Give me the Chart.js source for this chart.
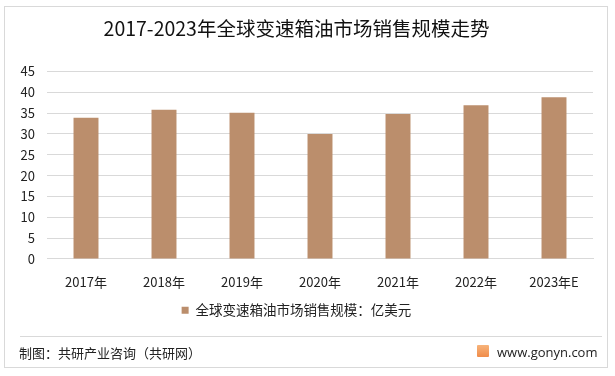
<!DOCTYPE html>
<html>
<head>
<meta charset="utf-8">
<script src="https://cdn.jsdelivr.net/npm/chart.js@4"></script>
<style>
  html, body { margin: 0; padding: 0; background: #fff; }
  #wrap { position: relative; width: 615px; height: 376px; font-family: "Noto Sans CJK SC", sans-serif; }
  #frame { position: absolute; left: 4px; top: 6px; width: 604px; height: 362px; border: 1px solid #d9d9d9; box-sizing: border-box; }
  #chart { position: absolute; left: 0; top: 0; }
  #sep { position: absolute; left: 20px; top: 336px; width: 582px; height: 1px; background: #d9d9d9; }
  #src { position: absolute; left: 19px; top: 344px; font-size: 13px; color: #222; line-height: 18px; }
  #site { position: absolute; left: 497px; top: 343px; font-size: 13px; color: #222; line-height: 18px; font-family: "Open Sans", sans-serif; }
  #logo { position: absolute; left: 477px; top: 345px; width: 12px; height: 12px; background: linear-gradient(#f7b37a, #f08c4a); border-radius: 1px; }
</style>
</head>
<body>
<div id="wrap">
  <div id="frame"></div>
  <canvas id="chart" width="615" height="376"></canvas>
  <div id="sep"></div>
  <div id="src">制图：共研产业咨询（共研网）</div>
  <div id="logo"></div>
  <div id="site">www.gonyn.com</div>
</div>
<script>
const ctx = document.getElementById('chart');

/* data */
const years = ["2017年", "2018年", "2019年", "2020年", "2021年", "2022年", "2023年E"];
const salesScale = [33.9, 35.8, 35.1, 30.0, 34.8, 36.9, 38.8];
const seriesName = "全球变速箱油市场销售规模：亿美元";
const chartTitle = "2017-2023年全球变速箱油市场销售规模走势";

const barColor = "#bb8e6c";
const gridColor = "#d9d9d9";
const font = "'Noto Sans CJK SC', sans-serif";

const config = {
    type: "bar",
    data: {
        labels: years,
        datasets: [
            {
                label: seriesName,
                data: salesScale,
                backgroundColor: barColor,
                categoryPercentage: 1,
                barPercentage: 0.32,
            },
        ],
    },
    options: {
        responsive: false,
        animation: false,
        layout: {
            padding: { left: 0, right: 22, top: 8, bottom: 49 },
        },
        scales: {
            x: {
                grid: { display: false },
                border: { color: gridColor },
                ticks: {
                    color: "#222",
                    font: { family: font, size: 13 },
                    padding: 7,
                    maxRotation: 0,
                },
            },
            y: {
                min: 0,
                max: 45,
                grid: { color: gridColor, drawTicks: false },
                border: { display: false },
                ticks: {
                    stepSize: 5,
                    color: "#222",
                    font: { family: font, size: 13 },
                    padding: 12,
                },
                afterFit: (scale) => { scale.width = 47; },
            },
        },
        plugins: {
            title: {
                display: true,
                text: chartTitle,
                color: "#111",
                font: { family: font, size: 19.5, weight: "normal" },
                padding: { top: 9, bottom: 31 },
            },
            legend: {
                display: true,
                position: "bottom",
                labels: {
                    color: "#222",
                    font: { family: font, size: 13.5 },
                    boxWidth: 7,
                    boxHeight: 7,
                    padding: 7,
                },
            },
            tooltip: { enabled: false },
        },
    },
};

new Chart(ctx, config);
</script>
</body>
</html>
